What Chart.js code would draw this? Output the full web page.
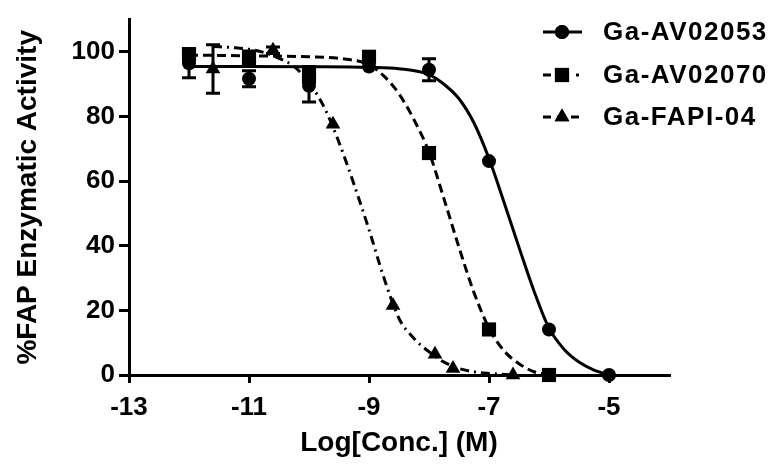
<!DOCTYPE html>
<html><head><meta charset="utf-8">
<script src="https://cdn.jsdelivr.net/npm/chart.js@4/dist/chart.umd.min.js"></script>
<style>html,body{margin:0;padding:0;background:#fff}#wrap{width:777px;height:468px}</style>
</head><body><div id="wrap"><canvas id="c" width="777" height="468"></canvas></div>
<script>
// ---- data ----
const seriesNames = ['Ga-AV02053', 'Ga-AV02070', 'Ga-FAPI-04'];
const xTickValues = [-13, -11, -9, -7, -5];
const yTickValues = [0, 20, 40, 60, 80, 100];

// measured points (log M, % activity) and SEM
const x53 = [-12, -11, -10, -9, -8, -7, -6, -5];
const y53 = [96.5, 91.7, 89.5, 95.5, 94.5, 66.2, 14.1, 0];
const e53 = [4.5, 2.5, 5, 0, 3.4, 0, 0, 0];

const x70 = [-12, -11, -10, -9, -8, -7, -6];
const y70 = [99.3, 98.3, 93, 98.5, 68.7, 14.1, 0];
const e70 = [0, 2, 2.5, 0, 0, 0, 0];

const xF = [-11.6, -10.6, -9.6, -8.6, -7.9, -7.6, -6.6];
const yF = [94.7, 100.5, 77.6, 21.5, 6.4, 2, 0];
const eF = [7.5, 1, 0, 0, 0, 0, 0];

// fitted curves, points
const cx53 = [-12, -11, -10, -9, -8.5, -8, -7.75, -7.5, -7.25, -7, -6.75, -6.5, -6.25, -6, -5.75, -5.5, -5.25, -5];
const cy53 = [95.5, 95.5, 95.4, 95.2, 94.8, 93, 90, 85.5, 78, 67, 53.5, 39.5, 26, 14.5, 8, 4, 1.5, 0];

const cx70 = [-12, -11, -10, -9.5, -9, -8.75, -8.5, -8.25, -8, -7.75, -7.5, -7.25, -7, -6.75, -6.5, -6.25, -6];
const cy70 = [99, 98.8, 98.5, 98, 96, 92.5, 87, 79, 69, 54.5, 39.5, 25.5, 14.5, 7.5, 3.5, 1, 0];

const cxF = [-11.6, -11.25, -11, -10.75, -10.5, -10.25, -10, -9.75, -9.5, -9.25, -9, -8.75, -8.5, -8.25, -8, -7.75, -7.5, -7.25, -7, -6.6];
const cyF = [101.7, 101.3, 100.8, 99.8, 98, 95.5, 90.5, 83, 72, 59, 45, 30, 17.5, 11.3, 7.2, 4, 2, 1, 0.5, 0];

// ---- build ----
const pts = (xs, ys) => xs.map((x, i) => ({x: x, y: ys[i]}));
const styles = [
  {dash: [], point: 'circle', r: 7},
  {dash: [9, 5], point: 'rect', r: 10},
  {dash: [9, 5, 2, 5], point: 'triangle', r: 8.5}
];
const legendDash = [[], [8, 25, 3, 10], [8, 6]];
const curves = [[cx53, cy53], [cx70, cy70], [cxF, cyF]];
const marks = [[x53, y53, e53], [x70, y70, e70], [xF, yF, eF]];

const datasets = [];
curves.forEach((c, i) => {
  datasets.push({
    label: seriesNames[i] + ' fit', data: pts(c[0], c[1]), showLine: true,
    borderColor: '#000', borderWidth: 3, borderDash: styles[i].dash,
    pointRadius: 0, cubicInterpolationMode: 'monotone', fill: false, clip: false, order: 2
  });
});
marks.forEach((m, i) => {
  datasets.push({
    label: seriesNames[i], data: pts(m[0], m[1]), showLine: false,
    pointStyle: styles[i].point, pointRadius: styles[i].r, pointHoverRadius: styles[i].r,
    backgroundColor: '#000', borderColor: '#000', borderWidth: 0, clip: false,
    errors: m[2], order: 1
  });
});

const errorBars = {
  id: 'errorBars',
  beforeDatasetsDraw(chart) {
    const ctx = chart.ctx, xs = chart.scales.x, ys = chart.scales.y;
    ctx.save();
    ctx.strokeStyle = '#000'; ctx.lineWidth = 3; ctx.setLineDash([]);
    chart.data.datasets.forEach(ds => {
      if (!ds.errors) return;
      ds.data.forEach((p, i) => {
        const e = ds.errors[i];
        if (!e) return;
        const px = xs.getPixelForValue(p.x);
        const t = ys.getPixelForValue(p.y + e), b = ys.getPixelForValue(p.y - e);
        ctx.beginPath();
        ctx.moveTo(px, t); ctx.lineTo(px, b);
        ctx.moveTo(px - 7, t); ctx.lineTo(px + 7, t);
        ctx.moveTo(px - 7, b); ctx.lineTo(px + 7, b);
        ctx.stroke();
      });
    });
    ctx.restore();
  }
};

const legendPlugin = {
  id: 'customLegend',
  afterDraw(chart) {
    const ctx = chart.ctx;
    const rowsY = [32, 75, 117];
    ctx.save();
    seriesNames.forEach((name, i) => {
      const y = rowsY[i];
      ctx.strokeStyle = '#000'; ctx.lineWidth = 3;
      ctx.setLineDash(legendDash[i]);
      ctx.beginPath(); ctx.moveTo(543, y); ctx.lineTo(582, y); ctx.stroke();
      ctx.setLineDash([]);
      Chart.helpers.drawPoint(ctx, {pointStyle: styles[i].point, radius: styles[i].r, borderWidth: 0}, 562, y);
      ctx.fillStyle = '#000';
      ctx.fill();
      ctx.font = 'bold 26px "Liberation Sans", Arial, sans-serif';
      if ('letterSpacing' in ctx) ctx.letterSpacing = '1.5px';
      ctx.textBaseline = 'middle'; ctx.textAlign = 'left';
      ctx.fillText(name, 603, y + 1);
      if ('letterSpacing' in ctx) ctx.letterSpacing = '0px';
    });
    ctx.restore();
  }
};

const tickFont = {family: '"Liberation Sans", Arial, sans-serif', size: 26, weight: 'bold'};
const titleFont = {family: '"Liberation Sans", Arial, sans-serif', size: 28, weight: 'bold'};

new Chart(document.getElementById('c'), {
  type: 'scatter',
  data: {datasets: datasets},
  options: {
    responsive: false, animation: false, devicePixelRatio: 1,
    layout: {padding: {top: 16, right: 108, bottom: 0, left: 0}},
    plugins: {legend: {display: false}, tooltip: {enabled: false}},
    scales: {
      x: {
        type: 'linear', min: -13, max: -4,
        afterBuildTicks: s => { s.ticks = xTickValues.map(v => ({value: v})); },
        afterFit: s => { s.height = 93; },
        ticks: {font: tickFont, color: '#000', padding: 9, autoSkip: false, maxRotation: 0},
        grid: {drawOnChartArea: false, drawTicks: true, tickLength: 8, color: '#000', lineWidth: 3},
        border: {display: true, color: '#000', width: 3},
        title: {display: true, text: 'Log[Conc.] (M)', font: titleFont, color: '#000', padding: {top: 0, bottom: 8}}
      },
      y: {
        type: 'linear', min: 0, max: 110,
        afterBuildTicks: s => { s.ticks = yTickValues.map(v => ({value: v})); },
        afterFit: s => { s.width = 129; },
        ticks: {font: tickFont, color: '#000', padding: 4, autoSkip: false},
        grid: {drawOnChartArea: false, drawTicks: true, tickLength: 10, color: '#000', lineWidth: 3},
        border: {display: true, color: '#000', width: 3},
        title: {display: true, text: '%FAP Enzymatic Activity', font: titleFont, color: '#000', padding: {top: 11, bottom: 0}}
      }
    }
  },
  plugins: [errorBars, legendPlugin]
});
</script></body></html>
